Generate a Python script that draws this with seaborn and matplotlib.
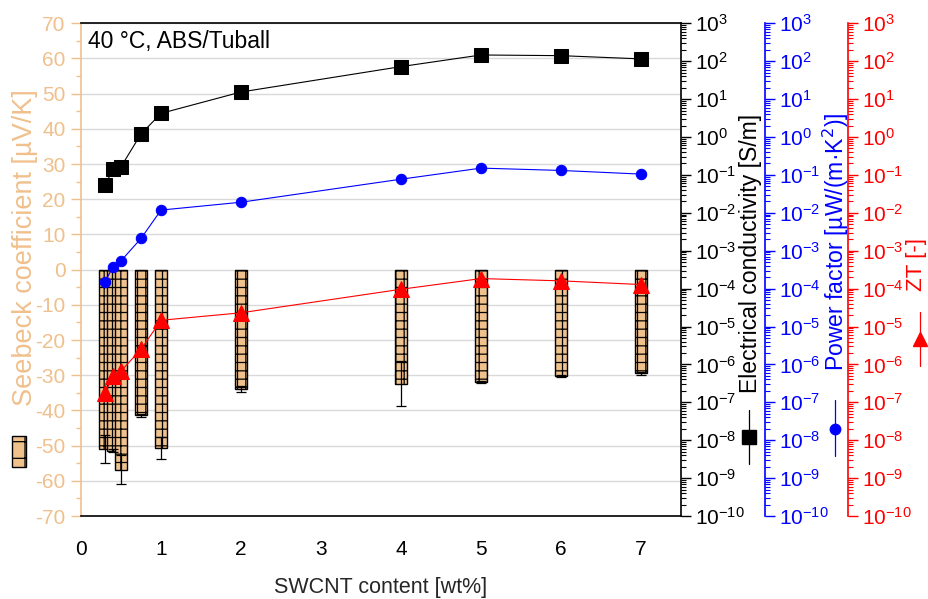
import numpy as np
import pandas as pd
import matplotlib
matplotlib.use("Agg")
import matplotlib.pyplot as plt
import seaborn as sns
from matplotlib.ticker import MultipleLocator, LogLocator, NullFormatter, FixedLocator
from matplotlib.patches import Rectangle
from matplotlib.lines import Line2D

# ---------------- data ----------------
swcnt = [0.3, 0.4, 0.5, 0.75, 1, 2, 4, 5, 6, 7]
seebeck = [-51.0, -51.4, -56.8, -41.4, -50.6, -34.0, -32.4, -31.8, -30.3, -29.5]
seebeck_err = [4.0, 0.5, 4.2, 0.5, 3.1, 0.8, 6.4, 0.3, 0.3, 0.3]
conductivity = [0.054, 0.14, 0.164, 1.2, 4.2, 15.4, 72, 146, 140, 115]
power_factor = [1.5e-4, 3.8e-4, 5.4e-4, 2.1e-3, 0.0118, 0.019, 0.077, 0.151, 0.131, 0.105]
zt = [1.8e-7, 4.9e-7, 6.7e-7, 2.5e-6, 1.46e-5, 2.3e-5, 9.6e-5, 1.84e-4, 1.6e-4, 1.28e-4]
x_ticks = [0, 1, 2, 3, 4, 5, 6, 7]

df = pd.DataFrame({"x": swcnt, "S": seebeck})

# ---------------- style ----------------
sns.set_style("white")
plt.rcParams["font.family"] = ["Liberation Sans", "DejaVu Sans"]
plt.rcParams["axes.unicode_minus"] = False
plt.rcParams["hatch.linewidth"] = 0.9
plt.rcParams["hatch.color"] = "black"

ORANGE = "#EFC18C"
ORANGE_TXT = "#F0C08C"
BLUE = "#0000FF"
RED = "#FF0000"
FS = 15
LFS = 16.6

W, H = 929, 599
fig = plt.figure(figsize=(W / 100, H / 100), dpi=100)
ax = fig.add_axes([81 / W, 1 - 516 / H, 600 / W, (516 - 23.3) / H])

# ---- Seebeck bars ----
sns.barplot(data=df, x="x", y="S", ax=ax, native_scale=True, orient="x",
            width=1.5, color=ORANGE, saturation=1, errorbar=None,
            edgecolor="black", linewidth=1.0, hatch="++", zorder=2)
ax.errorbar(swcnt, seebeck, yerr=seebeck_err, fmt="none", ecolor="black",
            elinewidth=0.9, capsize=3.3, capthick=0.9, zorder=3)

ax.set_xlim(0, 7.5)
ax.set_ylim(-70, 70)
ax.xaxis.set_major_locator(FixedLocator(x_ticks))
ax.set_xticklabels([str(t) for t in x_ticks])
ax.yaxis.set_major_locator(MultipleLocator(10))
ax.yaxis.set_minor_locator(MultipleLocator(5))
ax.yaxis.grid(True, color="#d9d9d9", linewidth=1.0, zorder=0)
ax.set_axisbelow(True)
ax.tick_params(axis="y", which="major", direction="out", length=7, width=1,
               colors=ORANGE_TXT, labelsize=FS, pad=4)
ax.tick_params(axis="y", which="minor", direction="out", length=3.5, width=1,
               colors=ORANGE_TXT)
ax.tick_params(axis="x", which="major", direction="out", length=6, width=1,
               colors="black", labelsize=FS, pad=11)
ax.spines["left"].set_color(ORANGE_TXT)
ax.spines["left"].set_linewidth(1.2)
for s in ("top", "bottom"):
    ax.spines[s].set_color("black")
    ax.spines[s].set_linewidth(1.2)
ax.spines["right"].set_visible(False)
ax.set_xlabel("SWCNT content [wt%]", fontsize=FS + 0.5, labelpad=13)
ax.set_ylabel("Seebeck coefficient [µV/K]", fontsize=19.5, color=ORANGE_TXT)
ax.yaxis.label.set_va("center")
ax.yaxis.set_label_coords(-0.093, 0.544)

ax.text(0.012, 0.963, "40 °C, ABS/Tuball", transform=ax.transAxes,
        ha="left", va="center", fontsize=16.5, color="black", zorder=10)


def log_axis(a, color, pos):
    a.set_yscale("log")
    a.set_ylim(1e-10, 1e3)
    a.yaxis.set_major_locator(LogLocator(base=10, subs=(1.0,), numticks=40))
    a.yaxis.set_minor_locator(LogLocator(base=10, subs=np.arange(2, 10), numticks=40))
    a.yaxis.set_minor_formatter(NullFormatter())
    for s in ("left", "top", "bottom"):
        a.spines[s].set_visible(False)
    a.spines["right"].set_color(color)
    a.spines["right"].set_linewidth(1.2)
    if pos is not None:
        a.spines["right"].set_position(("axes", pos))
    a.tick_params(axis="y", which="major", direction="out", length=7, width=1,
                  colors=color, labelsize=FS, pad=3)
    a.tick_params(axis="y", which="minor", direction="out", length=3.5, width=0.8,
                  colors=color)
    a.yaxis.label.set_color(color)


# ---- conductivity ----
ax2 = ax.twinx()
log_axis(ax2, "black", None)
sns.lineplot(x=swcnt, y=conductivity, ax=ax2, color="black", marker="s",
             markersize=9.5, markeredgecolor="black", linewidth=0.8, zorder=5)
ax2.set_ylabel("Electrical conductivity [S/m]", fontsize=LFS)
ax2.yaxis.label.set_va("center")
ax2.yaxis.set_label_coords(1.115, 0.532)

# ---- power factor ----
ax3 = ax.twinx()
log_axis(ax3, BLUE, 1.14)
sns.lineplot(x=swcnt, y=power_factor, ax=ax3, color=BLUE, marker="o",
             markersize=7.5, markeredgecolor=BLUE, linewidth=0.8, zorder=5)
ax3.set_ylabel("Power factor [µW/(m·K$^{2}$)]", fontsize=LFS)
ax3.yaxis.label.set_va("center")
ax3.yaxis.set_label_coords(1.258, 0.556)

# ---- ZT ----
ax4 = ax.twinx()
log_axis(ax4, RED, 1.278)
sns.lineplot(x=swcnt, y=zt, ax=ax4, color=RED, marker="^",
             markersize=11.5, markeredgecolor=RED, linewidth=0.8, zorder=5)
ax4.set_ylabel("ZT [-]", fontsize=16)
ax4.yaxis.label.set_va("center")
ax4.yaxis.set_label_coords(1.392, 0.511)

for a in (ax2, ax3, ax4):
    a.set_xlim(0, 7.5)


# ---- rotated legend symbols next to axis titles ----
def fx(px):
    return px / W


def fy(py):
    return 1 - py / H


fig.patches.append(Rectangle((fx(12), fy(467)), fx(26) - fx(12), fy(436) - fy(467),
                             transform=fig.transFigure, facecolor=ORANGE,
                             edgecolor="black", linewidth=1.0, hatch="+"))


def sym(px, py, y0, y1, marker, color, ms):
    fig.lines.append(Line2D([fx(px), fx(px)], [fy(y0), fy(y1)], transform=fig.transFigure,
                            color=color, linewidth=0.9))
    fig.lines.append(Line2D([fx(px)], [fy(py)], transform=fig.transFigure,
                            marker=marker, color=color, markersize=ms, linestyle="none"))


sym(749, 437, 410, 464, "s", "black", 9.5)
sym(835.5, 428.5, 400, 455.6, "o", BLUE, 7.5)
sym(920, 339, 311.6, 366, "^", RED, 10.5)

fig.savefig("out.png", dpi=100)
